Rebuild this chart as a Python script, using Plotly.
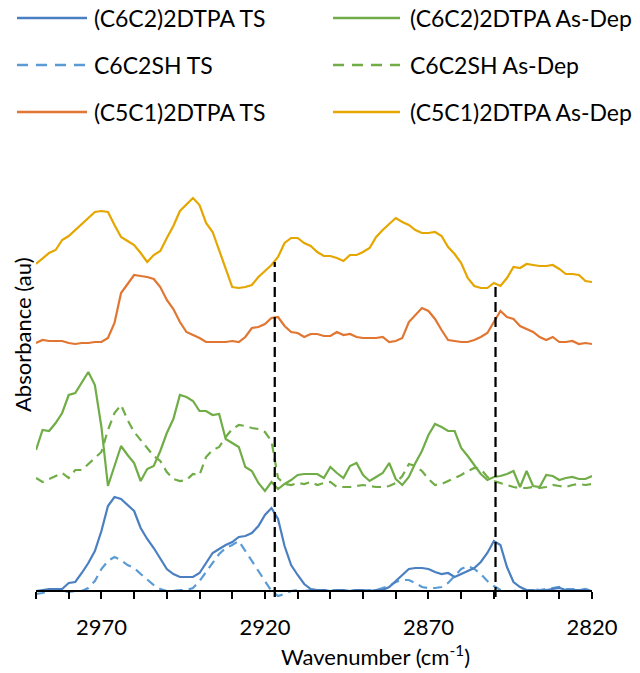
import plotly.graph_objects as go

# Wavenumber grid (cm-1), high to low as plotted
WAVENUMBER = list(range(2990, 2819, -2))

# Stacked absorbance traces (arbitrary units, offsets included)
C6C2_2DTPA_TS = [
    0, 1, 2, 2, 2, 8, 9, 18, 28, 40,
    60, 85, 94, 92, 86, 80, 63, 52, 43, 32,
    22, 17, 14, 14, 14, 18, 28, 38, 42, 46,
    49, 54, 55, 58, 65, 76, 83, 72, 45, 26,
    16, 7, 2, 1, 1, 0, 1, 1, 0, 1,
    1, 0, 1, 1, 4, 10, 17, 22, 23, 23,
    22, 19, 17, 18, 14, 17, 20, 23, 29, 38,
    50, 46, 24, 9, 4, 1, 1, 0, 1, 2,
    3, 1, 1, 1, 1, 0,
]

C6C2SH_TS = [
    -3, -2, 0, 1, 0, -1, 0, 0, 3, 10,
    22, 30, 34, 31, 26, 23, 17, 11, 6, 2,
    0, 0, 1, 1, 3, 10, 19, 29, 37, 43,
    46, 50, 40, 31, 20, 10, 0, -5, -3, 0,
    1, 0, 1, 0, 1, 0, 1, 0, 0, 1,
    0, 1, 1, 3, 5, 9, 11, 11, 8, 4,
    3, 3, 4, 8, 15, 22, 25, 22, 17, 10,
    5, 1, 0, 0, 1, 0, 2, 1, 2, 3,
    4, 2, 2, 1, 2, 0,
]

C5C1_2DTPA_TS = [
    248, 251, 250, 250, 250, 248, 247, 248, 248, 249,
    249, 253, 268, 298, 307, 316, 315, 314, 312, 304,
    291, 282, 269, 259, 256, 253, 249, 249, 249, 249,
    250, 249, 254, 263, 264, 267, 273, 274, 265, 259,
    258, 254, 257, 257, 255, 255, 259, 256, 257, 254,
    253, 253, 253, 254, 249, 250, 253, 269, 276, 283,
    280, 272, 261, 251, 250, 249, 249, 251, 254, 258,
    269, 280, 274, 272, 265, 262, 259, 254, 251, 254,
    249, 249, 250, 247, 248, 247,
]

C6C2_2DTPA_ASDEP = [
    141, 161, 160, 168, 178, 196, 198, 208, 219, 206,
    164, 105, 126, 145, 136, 128, 110, 122, 125, 140,
    158, 172, 196, 194, 190, 180, 180, 176, 177, 152,
    148, 144, 124, 120, 108, 100, 109, 102, 107, 111,
    116, 117, 117, 117, 113, 124, 118, 113, 125, 128,
    116, 110, 114, 118, 128, 112, 106, 114, 128, 140,
    156, 167, 164, 160, 160, 143, 135, 126, 117, 111,
    114, 115, 117, 120, 104, 120, 105, 104, 116, 115,
    111, 113, 114, 112, 112, 115,
]

C6C2SH_ASDEP = [
    113, 109, 112, 115, 118, 113, 121, 121, 127, 132,
    139, 161, 178, 186, 171, 159, 151, 144, 135, 130,
    119, 112, 110, 111, 117, 116, 134, 141, 144, 154,
    162, 166, 165, 163, 162, 159, 150, 113, 107, 106,
    108, 107, 109, 106, 108, 109, 104, 104, 104, 105,
    106, 105, 104, 104, 105, 108, 115, 127, 125, 120,
    112, 106, 107, 110, 113, 116, 120, 123, 122, 114,
    110, 108, 106, 104, 103, 103, 104, 103, 104, 106,
    105, 104, 106, 107, 106, 107,
]

C5C1_2DTPA_ASDEP = [
    327, 333, 338, 341, 351, 355, 361, 368, 373, 379,
    380, 379, 366, 354, 350, 346, 338, 329, 336, 340,
    353, 365, 380, 387, 393, 386, 368, 359, 341, 322,
    304, 303, 304, 306, 314, 320, 326, 334, 348, 353,
    353, 348, 345, 339, 335, 335, 333, 330, 336, 336,
    339, 343, 354, 361, 367, 373, 369, 366, 361, 358,
    358, 359, 355, 344, 337, 328, 313, 305, 303, 303,
    308, 305, 313, 324, 323, 327, 326, 325, 325, 326,
    322, 317, 317, 316, 310, 309,
]

# Axis ticks: marks every 10 cm-1, labels every 50 cm-1
TICK_MARKS = list(range(2990, 2819, -10))
TICK_LABELS = [2970, 2920, 2870, 2820]

# Reference bands (cm-1) and the height each guide line reaches
GUIDE_WAVENUMBERS = [2917, 2849.5]
GUIDE_TOPS = [329, 304]

SERIES = [
    # name, values, colour, dashed?, legend column, legend row
    ("(C6C2)2DTPA TS", C6C2_2DTPA_TS, "#4A7FC1", False, 0, 0),
    ("C6C2SH TS", C6C2SH_TS, "#5B9BD5", True, 0, 1),
    ("(C5C1)2DTPA TS", C5C1_2DTPA_TS, "#E07632", False, 0, 2),
    ("(C6C2)2DTPA As-Dep", C6C2_2DTPA_ASDEP, "#70AD47", False, 1, 0),
    ("C6C2SH As-Dep", C6C2SH_ASDEP, "#70AD47", True, 1, 1),
    ("(C5C1)2DTPA As-Dep", C5C1_2DTPA_ASDEP, "#E5A600", False, 1, 2),
]
TRACE_DASH = "9px,6px"
LEGEND_DASH = "11px,8px"

W, H = 640, 673
ML, MR, MT, MB = 36, 48, 171, 72
PW, PH = W - ML - MR, H - MT - MB
Y_RANGE = [-10, 420]
FONT = "Lato, 'Open Sans', sans-serif"


def paper_x(px):
    return (px - ML) / PW


def paper_y(py):
    return (H - MB - py) / PH


fig = go.Figure()

# Draw order: green, orange, yellow, then blue on top
draw_order = [4, 3, 2, 5, 1, 0]
for i in draw_order:
    name, vals, color, dashed, _, _ = SERIES[i]
    fig.add_trace(go.Scatter(
        x=WAVENUMBER, y=vals, name=name, mode="lines",
        line=dict(color=color, width=2.2, dash=TRACE_DASH if dashed else "solid"),
        showlegend=False, hoverinfo="x+y+name",
    ))

for wn, top in zip(GUIDE_WAVENUMBERS, GUIDE_TOPS):
    fig.add_trace(go.Scatter(
        x=[wn, wn], y=[-6, top], mode="lines",
        line=dict(color="black", width=2.25, dash="10px,5px"),
        showlegend=False, hoverinfo="skip",
    ))

# Two-column legend above the plot
LEG_ROWS_Y = [18, 65, 112]
LEG_LINE_X = [(17, 87), (333, 400)]
LEG_TEXT_X = [92, 408]
shapes = []
annotations = []
for name, vals, color, dashed, col, row in SERIES:
    y = paper_y(LEG_ROWS_Y[row])
    x0, x1 = LEG_LINE_X[col]
    shapes.append(dict(
        type="line", xref="paper", yref="paper",
        x0=paper_x(x0), x1=paper_x(x1), y0=y, y1=y,
        line=dict(color=color, width=2.5, dash=LEGEND_DASH if dashed else "solid"),
    ))
    annotations.append(dict(
        text=name, xref="paper", yref="paper",
        x=paper_x(LEG_TEXT_X[col]), y=y, xanchor="left", yanchor="middle",
        showarrow=False, font=dict(family=FONT, size=23, color="black"),
    ))

annotations.append(dict(
    text="Absorbance (au)", xref="paper", yref="paper",
    x=paper_x(22), y=paper_y(335), xanchor="center", yanchor="middle",
    textangle=-90, showarrow=False,
    font=dict(family=FONT, size=22, color="black"),
))
annotations.append(dict(
    text="Wavenumber (cm<sup>-1</sup>)", xref="paper", yref="paper",
    x=paper_x(375), y=paper_y(655), xanchor="center", yanchor="middle",
    showarrow=False, font=dict(family=FONT, size=22, color="black"),
))

fig.update_layout(
    width=W, height=H,
    margin=dict(l=ML, r=MR, t=MT, b=MB),
    paper_bgcolor="white", plot_bgcolor="white",
    shapes=shapes, annotations=annotations,
    showlegend=False,
    xaxis=dict(
        range=[2990, 2820], anchor="free",
        position=(0 - Y_RANGE[0]) / (Y_RANGE[1] - Y_RANGE[0]),
        showgrid=False, zeroline=False,
        showline=True, linecolor="black", linewidth=1.5,
        ticks="outside", ticklen=7, tickwidth=1.5, tickcolor="black",
        tickmode="array", tickvals=TICK_LABELS,
        ticktext=[str(v) for v in TICK_LABELS],
        tickfont=dict(family=FONT, size=22, color="black"),
        ticklabelstandoff=10,
        minor=dict(
            ticks="outside", ticklen=7, tickwidth=1.5, tickcolor="black",
            tickmode="array",
            tickvals=[v for v in TICK_MARKS if v not in TICK_LABELS],
            showgrid=False,
        ),
    ),
    yaxis=dict(range=Y_RANGE, visible=False, showgrid=False, zeroline=False),
)

fig.write_html("out.html")
